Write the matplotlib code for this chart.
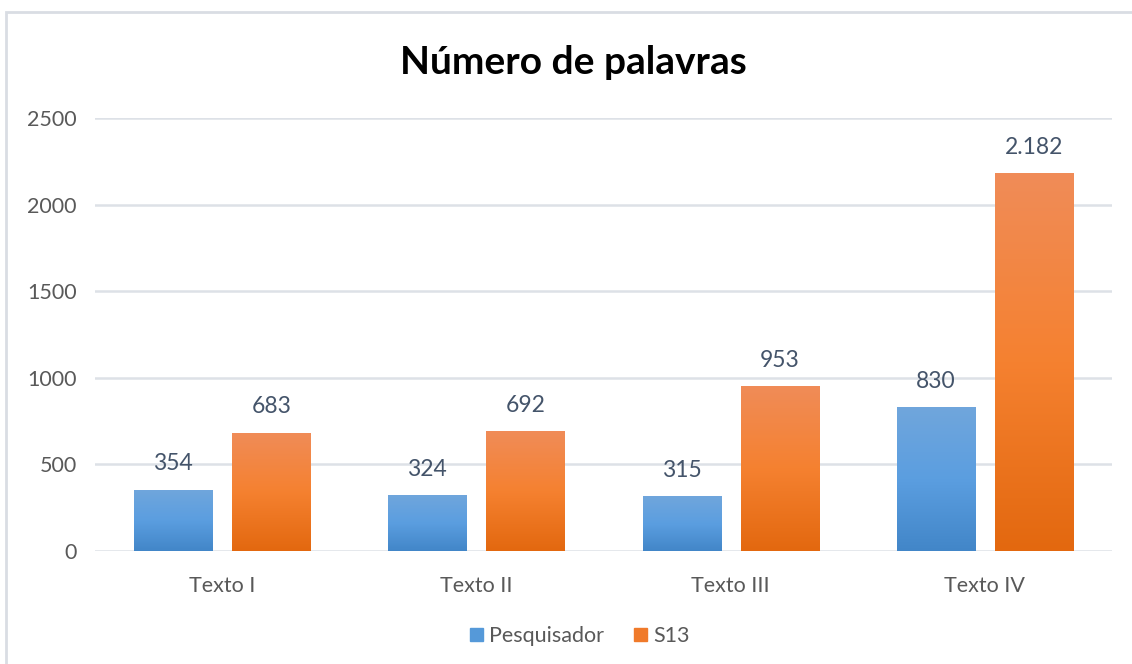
import numpy as np
import matplotlib.pyplot as plt
from matplotlib.patches import Rectangle
from matplotlib.colors import LinearSegmentedColormap

plt.rcParams['font.family'] = ['Lato', 'DejaVu Sans']

categories = ["Texto I", "Texto II", "Texto III", "Texto IV"]
pesquisador = [354, 324, 315, 830]
s13 = [683, 692, 953, 2182]
labels_p = ["354", "324", "315", "830"]
labels_s = ["683", "692", "953", "2.182"]

fig = plt.figure(figsize=(11.32, 6.64), dpi=100)
# outer light border of the chart
fig.patches.append(Rectangle((6 / 1132, -0.01), 1.2, 1 - 12 / 664 + 0.01, transform=fig.transFigure,
                             fill=False, edgecolor="#d9dde3", linewidth=2))
ax = fig.add_axes([95 / 1132, 1 - 551 / 664, 1017 / 1132, (551 - 118) / 664])

blue_cm = LinearSegmentedColormap.from_list("b", ["#4286c8", "#5b9ee0", "#70a6dc"])
orange_cm = LinearSegmentedColormap.from_list("o", ["#e3680f", "#f58130", "#f08c58"])

x = np.arange(len(categories))
w = 0.307
off = 0.193

grad = np.linspace(0, 1, 256).reshape(-1, 1)
for vals, cm, dx in [(pesquisador, blue_cm, -off), (s13, orange_cm, off)]:
    bars = ax.bar(x + dx, vals, w, color="none", edgecolor="none", zorder=2)
    for b in bars:
        x0, y0 = b.get_x(), b.get_y()
        im = ax.imshow(grad, cmap=cm, origin="lower", aspect="auto",
                       extent=[x0, x0 + b.get_width(), y0, y0 + b.get_height()], zorder=2)
        im.set_clip_path(b)

for i in range(len(categories)):
    ax.annotate(labels_p[i], (x[i] - off, pesquisador[i]), xytext=(0, 11), textcoords="offset points",
                ha="center", va="bottom", fontsize=16.5, color="#44546a")
    ax.annotate(labels_s[i], (x[i] + off, s13[i]), xytext=(0, 11), textcoords="offset points",
                ha="center", va="bottom", fontsize=16.5, color="#44546a")

ax.set_xlim(-0.5, 3.5)
ax.set_ylim(0, 2500)
ax.set_yticks([0, 500, 1000, 1500, 2000, 2500])
ax.set_xticks(x)
ax.set_xticklabels(categories)
ax.tick_params(length=0, labelsize=15.5, labelcolor="#595959")
ax.tick_params(axis="x", pad=18)
ax.tick_params(axis="y", pad=13)
ax.grid(axis="y", color="#dde1e7", linewidth=1.8, zorder=0)
ax.set_axisbelow(True)
for s in ax.spines.values():
    s.set_visible(False)

fig.text(573 / 1132, 1 - 62 / 664, "Número de palavras", fontsize=28, fontweight="bold",
         color="black", ha="center", va="center")

handles = [Rectangle((0, 0), 1, 1, color="#5599d9"), Rectangle((0, 0), 1, 1, color="#f07a2a")]
fig.legend(handles, ["Pesquisador", "S13"], loc="center", bbox_to_anchor=(580 / 1132, 1 - 636 / 664),
           ncol=2, frameon=False, fontsize=15.5, handlelength=0.6, handleheight=0.6,
           handletextpad=0.3, columnspacing=1.4, labelcolor="#595959")

fig.savefig("out.png", dpi=100)
